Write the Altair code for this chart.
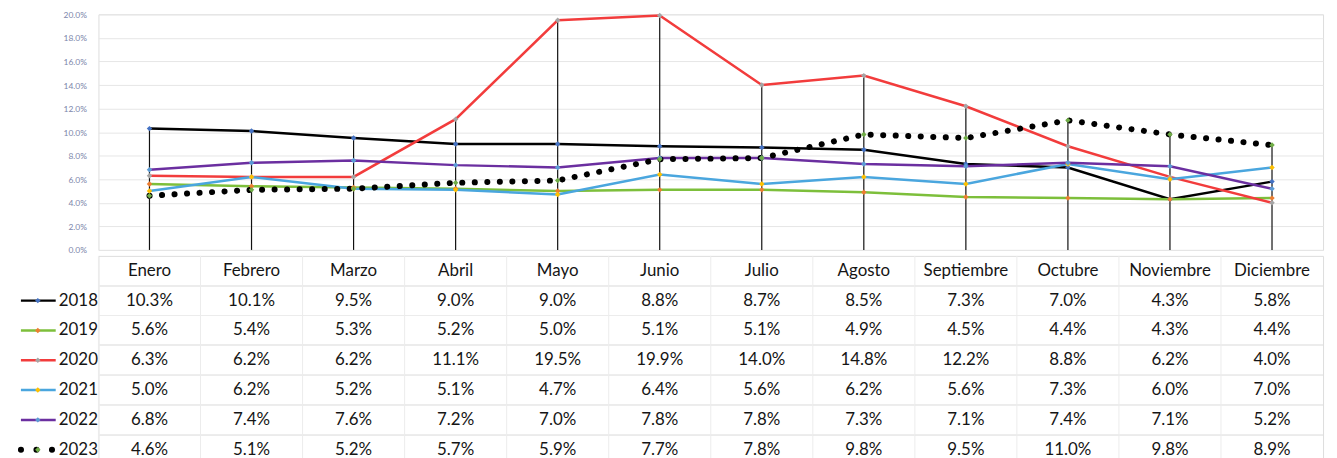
import altair as alt
import pandas as pd

months = ["Enero", "Febrero", "Marzo", "Abril", "Mayo", "Junio", "Julio",
          "Agosto", "Septiembre", "Octubre", "Noviembre", "Diciembre"]
years = ["2018", "2019", "2020", "2021", "2022", "2023"]

v2018 = [10.3, 10.1, 9.5, 9.0, 9.0, 8.8, 8.7, 8.5, 7.3, 7.0, 4.3, 5.8]
v2019 = [5.6, 5.4, 5.3, 5.2, 5.0, 5.1, 5.1, 4.9, 4.5, 4.4, 4.3, 4.4]
v2020 = [6.3, 6.2, 6.2, 11.1, 19.5, 19.9, 14.0, 14.8, 12.2, 8.8, 6.2, 4.0]
v2021 = [5.0, 6.2, 5.2, 5.1, 4.7, 6.4, 5.6, 6.2, 5.6, 7.3, 6.0, 7.0]
v2022 = [6.8, 7.4, 7.6, 7.2, 7.0, 7.8, 7.8, 7.3, 7.1, 7.4, 7.1, 5.2]
v2023 = [4.6, 5.1, 5.2, 5.7, 5.9, 7.7, 7.8, 9.8, 9.5, 11.0, 9.8, 8.9]
series = [v2018, v2019, v2020, v2021, v2022, v2023]

y_ticks = [0, 0.02, 0.04, 0.06, 0.08, 0.10, 0.12, 0.14, 0.16, 0.18, 0.20]

line_colors = ["#000000", "#7dbf3b", "#f23c3c", "#4aa6de", "#6b2fa0", "#000000"]
marker_colors = ["#4472c4", "#ed7d31", "#a5a5a5", "#ffc000", "#5b9bd5", "#70ad47"]

FONT = "Lato"
TXT = "#151515"

rows = []
for yr, vals in zip(years, series):
    for m, v in zip(months, vals):
        rows.append({"month": m, "year": yr, "value": v / 100.0})
df = pd.DataFrame(rows)

W = 1232
xscale = alt.Scale(domain=months, paddingInner=0, paddingOuter=0)
stroke_scale = alt.Scale(domain=years, range=line_colors)
fill_scale = alt.Scale(domain=years, range=marker_colors)
yscale = alt.Scale(domain=[0, 0.2], nice=False, zero=True)
yaxis = alt.Axis(values=y_ticks, format=".1%", title=None, domain=False,
                 ticks=False, labelFontSize=8.5, labelFont=FONT,
                 labelColor="#7c86aa", labelPadding=12, labelOverlap=False,
                 gridColor="#e6e6e6", gridWidth=1)

X = alt.X("month:N", scale=xscale, sort=months, axis=None)

base = alt.Chart(df)

drop = base.mark_rule(color="#111111", strokeWidth=1.2).encode(
    x=X,
    y=alt.Y("max(value):Q", scale=yscale, axis=yaxis),
    y2=alt.datum(0),
)

solid = base.transform_filter(alt.datum.year != "2023").mark_line(
    interpolate="linear", strokeWidth=2.5
).encode(
    x=X,
    y=alt.Y("value:Q", scale=yscale, axis=yaxis),
    stroke=alt.Stroke("year:N", scale=stroke_scale, legend=None),
    detail="year:N",
)

dotted = base.transform_filter(alt.datum.year == "2023").mark_line(
    interpolate="linear", strokeWidth=6, strokeDash=[0.1, 12.5],
    strokeCap="round", color="#000000"
).encode(
    x=X,
    y=alt.Y("value:Q", scale=yscale, axis=yaxis),
)

points = base.mark_point(shape="diamond", filled=True, size=30, opacity=1).encode(
    x=X,
    y=alt.Y("value:Q", scale=yscale, axis=yaxis),
    fill=alt.Fill("year:N", scale=fill_scale, legend=None),
)

top = alt.layer(drop, solid, dotted, points).properties(width=W, height=237)

# ---- data table ----
row_domain = ["hdr"] + years
trows = [{"month": m, "row": "hdr", "label": m} for m in months]
for yr, vals in zip(years, series):
    for m, v in zip(months, vals):
        trows.append({"month": m, "row": yr, "label": f"{v:.1f}%"})
tdf = pd.DataFrame(trows)
yrow = alt.Scale(domain=row_domain, paddingInner=0, paddingOuter=0)
rowaxis = alt.Axis(title=None, domain=False, ticks=False, grid=False,
                   labelExpr="datum.value == 'hdr' ? '' : datum.value",
                   labelFont=FONT, labelFontSize=17, labelColor=TXT,
                   labelPadding=1)

tbase = alt.Chart(tdf)

table_text = tbase.mark_text(font=FONT, fontSize=17, color=TXT).encode(
    x=X,
    y=alt.Y("row:N", scale=yrow, sort=row_domain, axis=rowaxis),
    text="label:N",
)

hgrid = tbase.transform_filter(alt.datum.row != "hdr").mark_rule(
    color="#ececec", strokeWidth=1).encode(
    y=alt.Y("row:N", scale=yrow, sort=row_domain, bandPosition=0, axis=rowaxis),
)
vgrid = tbase.transform_filter(alt.datum.row == "hdr").mark_rule(
    color="#ececec", strokeWidth=1).encode(
    x=alt.X("month:N", scale=xscale, sort=months, axis=None, bandPosition=0),
)

kdf = pd.DataFrame({"row": years})
kbase = alt.Chart(kdf)
key_lines = kbase.transform_filter(alt.datum.row != "2023").mark_rule(strokeWidth=2.5).encode(
    x=alt.value(-78), x2=alt.value(-43),
    y=alt.Y("row:N", scale=yrow, sort=row_domain, axis=rowaxis),
    stroke=alt.Stroke("row:N", scale=stroke_scale, legend=None),
)
key_dots = kbase.transform_filter(alt.datum.row == "2023").mark_rule(
    strokeWidth=6, strokeDash=[0.1, 15.5], strokeCap="round", color="#000000").encode(
    x=alt.value(-78), x2=alt.value(-43),
    y=alt.Y("row:N", scale=yrow, sort=row_domain, axis=rowaxis),
)
key_pts = kbase.mark_point(shape="diamond", filled=True, size=30, opacity=1).encode(
    x=alt.value(-61),
    y=alt.Y("row:N", scale=yrow, sort=row_domain, axis=rowaxis),
    fill=alt.Fill("row:N", scale=fill_scale, legend=None),
)

bottom = alt.layer(hgrid, vgrid, key_lines, key_dots, key_pts, table_text).properties(
    width=W, height=210)

chart = alt.vconcat(top, bottom, spacing=0).resolve_scale(
    x="shared"
).properties(
    padding={"left": 9, "top": 0, "right": 5, "bottom": 0}
).configure_view(stroke=None).configure(background="white")

chart.save("out.html", embed_options={"renderer": "svg", "actions": False})
